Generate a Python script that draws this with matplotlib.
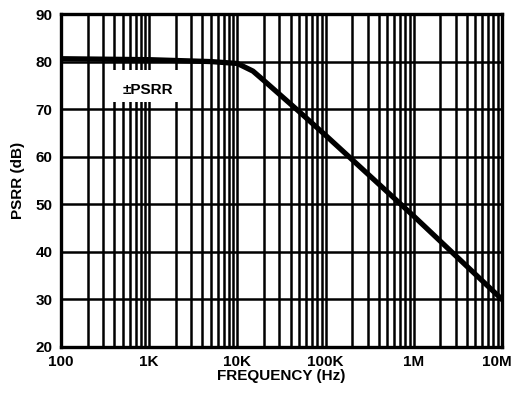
import matplotlib.pyplot as plt
import matplotlib.patches as patches
import matplotlib.transforms as mtransforms
from matplotlib.ticker import FixedLocator, LogLocator, NullFormatter

plt.rcParams['font.family'] = ['Liberation Sans', 'DejaVu Sans']
plt.rcParams['font.weight'] = 'bold'

# PSRR vs frequency
freq = [100, 1e3, 5e3, 1e4, 1.5e4, 2e4, 5e4, 1e5, 1e6, 1e7]
psrr = [80.6, 80.4, 80.0, 79.6, 78.0, 76.0, 69.5, 64.5, 47.5, 30.0]

xticks = [1e2, 1e3, 1e4, 1e5, 1e6, 1e7]
xlabels = ['100', '1K', '10K', '100K', '1M', '10M']
yticks = [20, 30, 40, 50, 60, 70, 80, 90]

fig = plt.figure(figsize=(5.15, 4.01), dpi=100)
ax = fig.add_axes([61/515, 54/401, 441/515, 333/401])

ax.set_xscale('log')
ax.set_xlim(1e2, 1e7)
ax.set_ylim(20, 90)

ax.xaxis.set_major_locator(FixedLocator(xticks))
ax.set_xticklabels(xlabels)
ax.xaxis.set_minor_locator(LogLocator(base=10, subs=range(2, 10), numticks=20))
ax.xaxis.set_minor_formatter(NullFormatter())
ax.set_yticks(yticks)

ax.grid(True, which='both', axis='x', color='black', lw=1.8)
ax.grid(True, which='major', axis='y', color='black', lw=1.8)
ax.tick_params(which='both', length=0, labelsize=11, pad=6)
for s in ax.spines.values():
    s.set_linewidth(2.4)

# nudge "10M" left so it stays inside the figure
last = ax.get_xticklabels()[-1]
last.set_transform(last.get_transform() +
                   mtransforms.ScaledTranslation(-5/100, 0, fig.dpi_scale_trans))

ax.plot(freq, psrr, color='black', lw=3.8, zorder=5)

# white box behind the label
box = patches.Rectangle((360, 71.5), 2550 - 360, 78.2 - 71.5,
                        facecolor='white', edgecolor='none', zorder=3)
ax.add_patch(box)
ax.text(968, 74.1, '\u00b1PSRR', ha='center', va='center', fontsize=11,
        fontweight='bold', zorder=6)

ax.set_xlabel('FREQUENCY (Hz)', fontsize=11, fontweight='bold', labelpad=0)
ax.set_ylabel('PSRR (dB)', fontsize=11, fontweight='bold', labelpad=8)

fig.savefig('out.png', dpi=100)
